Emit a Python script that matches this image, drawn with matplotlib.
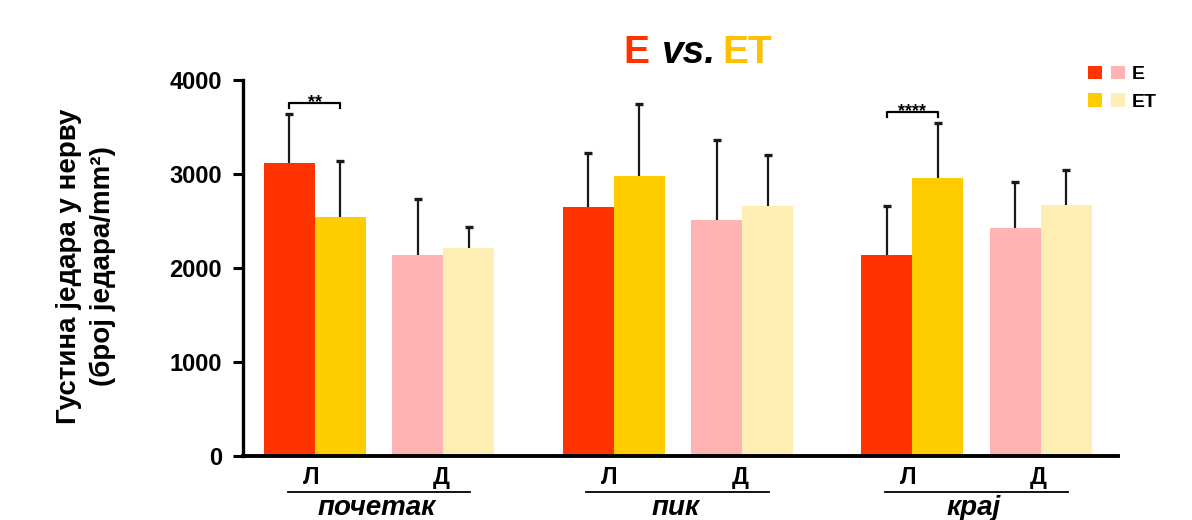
import matplotlib
matplotlib.use("Agg")
import matplotlib.pyplot as plt
import matplotlib.transforms as mtransforms
from matplotlib.legend_handler import HandlerTuple
import numpy as np

plt.rcParams['font.family'] = ['Liberation Sans', 'DejaVu Sans']

# ---- data ----
groups = ['почетак', 'пик', 'крај']
sides = ['Л', 'Д']
series = ['E', 'ET']

E_L = [3120, 2652, 2142]
ET_L = [2546, 2975, 2954]
E_D = [2138, 2511, 2426]
ET_D = [2213, 2663, 2667]

E_L_err = [518, 571, 521]
ET_L_err = [589, 773, 589]
E_D_err = [596, 851, 486]
ET_D_err = [227, 539, 372]

# significance (group index, label) for L pair
sig = [(0, '**'), (2, '****')]

yticks = [0, 1000, 2000, 3000, 4000]

# ---- colours ----
c_E_L = '#FF3300'
c_ET_L = '#FFCC00'
c_E_D = '#FFB3B3'
c_ET_D = '#FFEEB4'

fig = plt.figure(figsize=(11.92, 5.2), dpi=100)
ax = fig.add_axes([243/1192, 1-456/520, 875/1192, 376/520])

first = 1.41
pair_gap = 2.52
group_gap = 5.855
w = 1.0

gidx = np.arange(len(groups))
L_c = first + gidx * group_gap
D_c = L_c + pair_gap

def bars(x, vals, errs, color):
    vals = np.asarray(vals, float)
    errs = np.asarray(errs, float)
    b = ax.bar(x, vals, width=w, color=color, linewidth=0, zorder=2)
    ax.errorbar(x, vals, yerr=[np.zeros(len(vals)), errs], fmt='none',
                ecolor='#1a1a1a', elinewidth=1.6, capsize=0, zorder=3)
    ax.plot(x, vals + errs, ls='none', marker='_', ms=6, mew=2.4,
            color='#1a1a1a', zorder=3)
    return b

bEL = bars(L_c - w/2, E_L, E_L_err, c_E_L)
bETL = bars(L_c + w/2, ET_L, ET_L_err, c_ET_L)
bED = bars(D_c - w/2, E_D, E_D_err, c_E_D)
bETD = bars(D_c + w/2, ET_D, ET_D_err, c_ET_D)

ax.set_xlim(0, 875/51)
ax.set_ylim(0, 4000)
ax.set_yticks(yticks)
ax.set_yticklabels([str(v) for v in yticks], fontsize=17, fontweight='bold')
ax.tick_params(axis='y', length=7, width=2.2, pad=8)

xt = np.ravel(np.column_stack([L_c - 0.08, D_c - 0.04]))
ax.set_xticks(xt)
ax.set_xticklabels(sides * len(groups), fontsize=17, fontweight='bold')
ax.tick_params(axis='x', length=0, pad=7)

for s in ['top', 'right']:
    ax.spines[s].set_visible(False)
ax.spines['left'].set_linewidth(2.4)
ax.spines['bottom'].set_linewidth(2.8)

# group underlines and labels
trans = mtransforms.blended_transform_factory(ax.transData, ax.transAxes)
gc = (L_c + D_c) / 2
for i, g in enumerate(groups):
    ax.plot([gc[i] - 1.79, gc[i] + 1.79], [-0.0957, -0.0957], transform=trans,
            clip_on=False, color='black', lw=1.3)
    ax.text(gc[i] - 0.05, -0.157, g, transform=trans, ha='center', va='baseline',
            fontsize=20, fontweight='bold', fontstyle='italic')

# significance brackets
for gi, lab in sig:
    top = max(E_L[gi] + E_L_err[gi], ET_L[gi] + ET_L_err[gi])
    yb = top + 115
    x0 = L_c[gi] - w/2
    x1 = L_c[gi] + w/2
    ax.plot([x0, x0, x1, x1], [yb - 55, yb, yb, yb - 55], color='black', lw=1.6,
            clip_on=False, zorder=4)
    ax.text((x0 + x1) / 2, yb - 45, lab, ha='center', va='baseline',
            fontsize=13, fontweight='bold')

# y label
fig.text(86/1192, 1 - 266/520, 'Густина једара у нерву\n(број једара/mm²)',
         rotation=90, ha='center', va='center', fontsize=20, fontweight='bold',
         multialignment='center', linespacing=1.4)

# title
fig.text(623/1192, 1 - 63/520, 'E', color='#FF3300', fontsize=28, fontweight='bold',
         ha='left', va='baseline')
fig.text(662/1192, 1 - 63/520, 'vs.', color='black', fontsize=28, fontweight='bold',
         fontstyle='italic', ha='left', va='baseline')
fig.text(722/1192, 1 - 63/520, 'ET', color='#FFC000', fontsize=28, fontweight='bold',
         ha='left', va='baseline')

# legend
leg = fig.legend(handles=[(bEL[0], bED[0]), (bETL[0], bETD[0])], labels=series,
                 handler_map={tuple: HandlerTuple(ndivide=None, pad=0.5)},
                 loc='upper left', bbox_to_anchor=(1088/1192, 1 - 66/520),
                 bbox_transform=fig.transFigure, frameon=False, borderpad=0,
                 borderaxespad=0, handlelength=1.9, handleheight=0.68,
                 handletextpad=0.35, labelspacing=0.5,
                 prop={'size': 14, 'weight': 'bold'})

fig.savefig('out.png', dpi=100)
